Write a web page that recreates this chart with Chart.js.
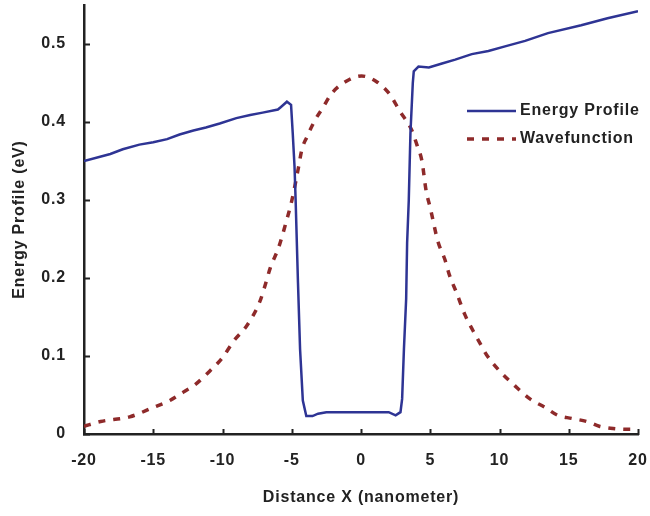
<!DOCTYPE html>
<html>
<head>
<meta charset="utf-8">
<script src="https://cdn.jsdelivr.net/npm/chart.js@4/dist/chart.umd.min.js"></script>
<style>
  html, body { margin:0; padding:0; background:#fff; }
  #wrap { width:650px; height:516px; position:relative; }
</style>
</head>
<body>
<div id="wrap"><canvas id="energyChart" width="650" height="516"></canvas></div>
<script>
// values
const energyX = [-20, -18.1, -17.2, -16.0, -15.0, -14.0, -13.1, -12.1, -11.2, -10.2, -9.0, -8.0, -7.1, -6.0, -5.8, -5.35, -5.05, -4.93, -4.8, -4.72, -4.55, -4.4, -4.2, -3.95, -3.5, -3.1, -2.5, 2.0, 2.5, 2.85, 2.97, 3.1, 3.26, 3.33, 3.45, 3.57, 3.74, 3.81, 4.15, 4.9, 5.85, 6.8, 8.0, 9.2, 10.4, 11.85, 13.5, 15.9, 17.8, 20.0]
const energyY = [0.350, 0.359, 0.365, 0.371, 0.374, 0.378, 0.384, 0.389, 0.393, 0.398, 0.405, 0.409, 0.412, 0.416, 0.419, 0.426, 0.422, 0.386, 0.343, 0.300, 0.194, 0.109, 0.043, 0.023, 0.023, 0.026, 0.028, 0.028, 0.024, 0.028, 0.045, 0.109, 0.173, 0.245, 0.300, 0.386, 0.450, 0.465, 0.471, 0.470, 0.475, 0.480, 0.487, 0.491, 0.497, 0.504, 0.514, 0.524, 0.533, 0.542]

const waveX = [-20, -18.8, -16.7, -15.0, -13.8, -12.8, -12.0, -10.9, -10.0, -9.2, -8.2, -7.3, -6.9, -6.55, -5.95, -5.45, -5.0, -4.5, -4.28, -3.9, -3.3, -2.8, -2.1, -1.0, 0.05, 1.1, 2.1, 2.8, 3.65, 4.05, 4.4, 4.7, 5.0, 5.55, 6.05, 6.4, 6.9, 7.5, 8.1, 8.7, 9.05, 10.0, 11.1, 12.2, 13.3, 14.2, 15.2, 16.3, 17.2, 18.2, 19.2, 20.0]
const waveY = [0.010, 0.016, 0.022, 0.034, 0.043, 0.054, 0.063, 0.081, 0.098, 0.119, 0.140, 0.170, 0.192, 0.213, 0.239, 0.269, 0.299, 0.343, 0.364, 0.381, 0.403, 0.417, 0.437, 0.453, 0.459, 0.452, 0.435, 0.414, 0.390, 0.370, 0.350, 0.312, 0.290, 0.247, 0.224, 0.203, 0.181, 0.153, 0.132, 0.113, 0.102, 0.081, 0.062, 0.045, 0.034, 0.024, 0.020, 0.016, 0.010, 0.007, 0.006, 0.006]

const xTicks = [-20, -15, -10, -5, 0, 5, 10, 15, 20]
const yTicks = [0, 0.1, 0.2, 0.3, 0.4, 0.5]

const blue = '#2e3494'
const red = '#8e2a2a'
const font = 'Liberation Sans, Arial, sans-serif'
const spacing = '0.8px'

const toPts = (xs, ys) => xs.map((x, i) => ({x, y: ys[i]}))

// slightly spaced-out lettering like the original
const letterSpacing = {
  id: 'letterSpacing',
  beforeLayout(chart) { chart.ctx.letterSpacing = spacing },
  beforeDraw(chart) { chart.ctx.letterSpacing = spacing }
}

// little tick marks pointing into the plot, plus the inset legend
const innerTicks = {
  id: 'innerTicks',
  afterDraw(chart) {
    const {ctx, chartArea: a, scales: {x, y}} = chart
    ctx.save()
    ctx.strokeStyle = '#222'
    ctx.lineWidth = 2
    ctx.beginPath()
    xTicks.forEach(v => { const px = Math.round(x.getPixelForValue(v)) + 0.5; ctx.moveTo(px, a.bottom + 1); ctx.lineTo(px, a.bottom - 5) })
    yTicks.forEach(v => { const py = Math.round(y.getPixelForValue(v)) + 0.5; ctx.moveTo(a.left - 1, py); ctx.lineTo(a.left + 6, py) })
    ctx.stroke()

    // legend
    ctx.font = 'bold 16px ' + font
    ctx.letterSpacing = spacing
    ctx.textBaseline = 'middle'
    chart.data.datasets.forEach((ds, i) => {
      const ly = 111 + i * 28
      ctx.strokeStyle = ds.borderColor
      ctx.lineWidth = ds.borderWidth
      ctx.setLineDash(ds.borderDash || [])
      ctx.beginPath(); ctx.moveTo(467, ly); ctx.lineTo(516, ly); ctx.stroke()
      ctx.setLineDash([])
      ctx.fillStyle = '#222'
      ctx.fillText(ds.label, 520, ly)
    })
    ctx.restore()
  }
}

function initChart() {
  try {
    const el = document.getElementById('energyChart')
    new Chart(el, {
      type: 'line',
      data: {
        datasets: [
          {label: 'Energy Profile', data: toPts(energyX, energyY), borderColor: blue, borderWidth: 2.5, pointRadius: 0, tension: 0, fill: false},
          {label: 'Wavefunction', data: toPts(waveX, waveY), borderColor: red, borderWidth: 3.5, borderDash: [7, 8], pointRadius: 0, cubicInterpolationMode: 'monotone', fill: false}
        ]
      },
      options: {
        responsive: false,
        animation: false,
        layout: {padding: {left: 0, right: 12, top: 5, bottom: 0}},
        plugins: {legend: {display: false}, tooltip: {enabled: false}},
        scales: {
          x: {
            type: 'linear', min: -20, max: 20,
            afterBuildTicks: s => { s.ticks = xTicks.map(v => ({value: v})) },
            afterFit: s => { s.height = 82; s.paddingLeft = 0; s.paddingRight = 0 },
            grid: {display: false, drawTicks: false},
            border: {display: true, color: '#222', width: 2.5},
            ticks: {padding: 17, color: '#222', font: {family: font, size: 16, weight: 'bold'}, maxRotation: 0},
            title: {display: true, text: 'Distance X (nanometer)', color: '#222', font: {family: font, size: 16, weight: 'bold'}, padding: {top: 0, bottom: 9}}
          },
          y: {
            min: 0, max: 0.55,
            afterBuildTicks: s => { s.ticks = yTicks.map(v => ({value: v})) },
            afterFit: s => { s.width = 84; s.paddingTop = 0; s.paddingBottom = 0 },
            grid: {display: false, drawTicks: false},
            border: {display: true, color: '#222', width: 2.5},
            ticks: {padding: 18, color: '#222', font: {family: font, size: 16, weight: 'bold'}, callback: v => String(Math.round(v * 10) / 10)},
            title: {display: true, text: 'Energy Profile (eV)', color: '#222', font: {family: font, size: 16, weight: 'bold'}, padding: {top: 10, bottom: 0}}
          }
        }
      },
      plugins: [letterSpacing, innerTicks]
    })
  } catch(e) {
    console.error('Chart init error:', e)
  }
}

document.addEventListener('DOMContentLoaded', initChart)
</script>
</body>
</html>
